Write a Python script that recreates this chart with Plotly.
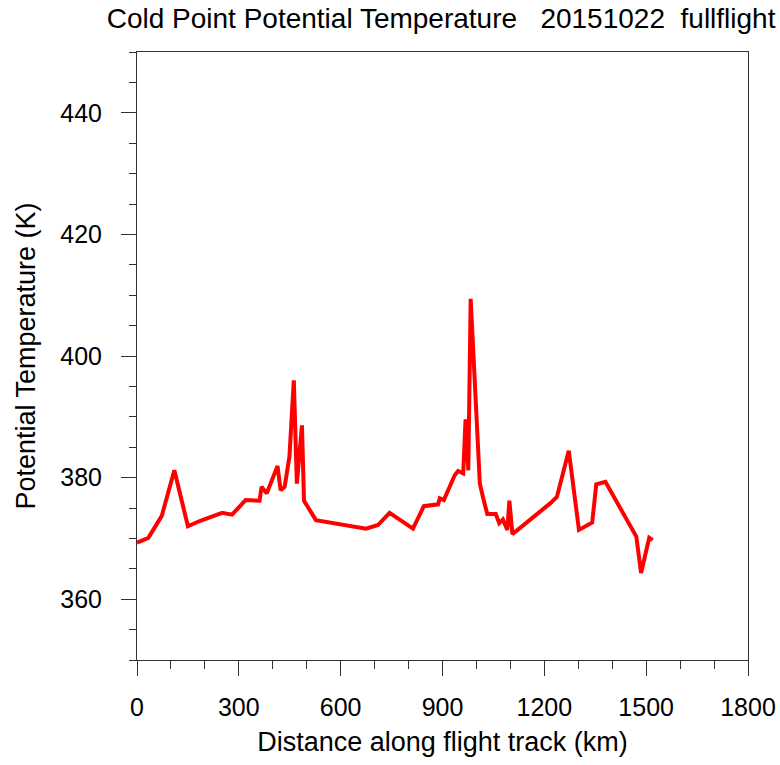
import plotly.graph_objects as go

distance_km = [0, 33.5, 73, 110, 150, 186.5, 251, 280, 320, 361, 367, 382, 414, 423, 435, 449,
               462, 471, 486, 492, 527, 675, 710, 744, 813, 845, 887, 892, 904, 919, 936, 946,
               961, 968, 976, 983, 1010, 1020, 1032, 1057, 1067, 1078, 1091, 1097, 1106, 1218,
               1237, 1272, 1302, 1341, 1353, 1380, 1471, 1485, 1509, 1519]
theta_K = [369.3, 370.1, 373.7, 381.2, 372.0, 372.9, 374.2, 373.9, 376.3, 376.2, 378.5, 377.4,
           381.9, 377.9, 378.5, 383.4, 396.0, 379.0, 388.6, 376.2, 373.0, 371.6, 372.2, 374.2,
           371.6, 375.3, 375.6, 376.6, 376.3, 378.2, 380.4, 381.1, 380.7, 389.6, 381.2, 409.4,
           379.0, 376.6, 374.0, 374.0, 372.5, 373.1, 371.4, 376.2, 370.7, 375.8, 376.8, 384.4,
           371.4, 372.6, 378.9, 379.3, 370.3, 364.3, 370.1, 369.7]

x_ticks = [0, 300, 600, 900, 1200, 1500, 1800]
y_ticks = [360, 380, 400, 420, 440]

FONT = "Liberation Sans, Arial, Helvetica, sans-serif"

fig = go.Figure()
fig.add_trace(go.Scatter(x=distance_km, y=theta_K, mode="lines",
                         line=dict(color="#ff0000", width=4), showlegend=False))

axis_common = dict(
    showgrid=False, zeroline=False, showline=True, linecolor="#333333", linewidth=1,
    mirror=True, ticks="outside", ticklen=15, tickwidth=1, tickcolor="#333333",
    tickfont=dict(family=FONT, size=25, color="black"),
)

fig.update_xaxes(range=[0, 1800], tickmode="array", tickvals=x_ticks,
                 ticktext=[str(v) for v in x_ticks], ticklabelstandoff=10,
                 minor=dict(dtick=100, ticklen=8, tickcolor="#333333", ticks="outside"),
                 title=dict(text="Distance along flight track (km)",
                            font=dict(family=FONT, size=27, color="black"), standoff=12),
                 **axis_common)
fig.update_yaxes(range=[350, 450], tickmode="array", tickvals=y_ticks,
                 ticktext=[str(v) for v in y_ticks], ticklabelstandoff=14,
                 minor=dict(dtick=5, ticklen=7, tickcolor="#333333", ticks="outside"),
                 title=dict(text="Potential Temperature (K)",
                            font=dict(family=FONT, size=27, color="black"), standoff=16),
                 **axis_common)

fig.update_layout(
    width=780, height=765,
    margin=dict(l=137, r=32, t=52, b=105, autoexpand=False),
    plot_bgcolor="white", paper_bgcolor="white",
    title=dict(text="Cold Point Potential Temperature   20151022  fullflight",
               x=0.5655, xanchor="center", y=0.976, yanchor="middle",
               font=dict(family=FONT, size=28, color="black")),
)

fig.write_html("out.html")
